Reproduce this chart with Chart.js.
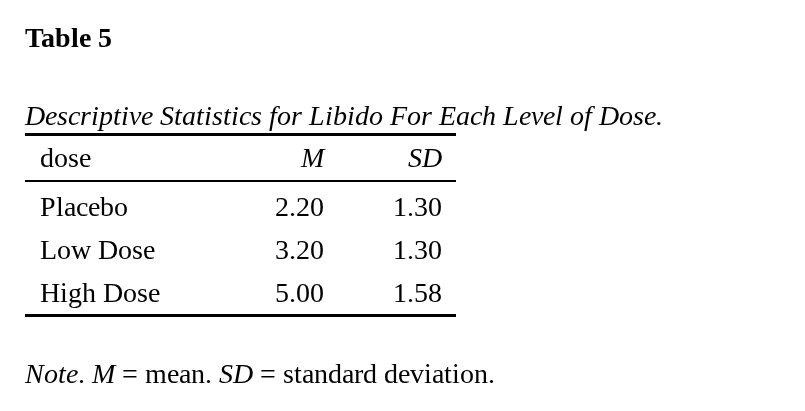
<!DOCTYPE html>
<html><head><meta charset="utf-8">
<script src="https://cdn.jsdelivr.net/npm/chart.js@4/dist/chart.umd.min.js"></script>
<style>
@font-face { font-family: 'TblSerif'; font-style: normal; font-weight: 400; src: local('Liberation Serif'), local('LiberationSerif'), local('Liberation Serif Regular'), local('LiberationSerif-Regular'); }
@font-face { font-family: 'TblSerif'; font-style: italic; font-weight: 400; src: local('Liberation Serif Italic'), local('LiberationSerif-Italic'); }
@font-face { font-family: 'TblSerif'; font-style: normal; font-weight: 700; src: local('Liberation Serif Bold'), local('LiberationSerif-Bold'); }
html,body{margin:0;padding:0;background:#fff;}
</style>
</head><body>
<canvas id="c" width="805" height="411"></canvas>
<script>
// ---- data ----
const tableNumber = "Table 5";
const tableTitle = "Descriptive Statistics for Libido For Each Level of Dose.";
const columnHeaders = ["dose", "M", "SD"];
const doses = ["Placebo", "Low Dose", "High Dose"];
const means = [2.20, 3.20, 5.00];
const sds = [1.30, 1.30, 1.58];
const noteTexts = ["Note", ". ", "M", " = mean. ", "SD", " = standard deviation."];
const noteItalic = [true, false, true, false, true, false];

// ---- style / layout ----
const COL_DOSE = 0.035, COL_M = 0.694, COL_SD = 0.967;
const FAM = 'TblSerif, "Liberation Serif", "Times New Roman", serif';
const REG = '28px ' + FAM;
const ITA = 'italic 28px ' + FAM;
const BLD = 'bold 28px ' + FAM;

function put(ctx, font, align, txt, x, y) {
  ctx.font = font;
  ctx.fillStyle = '#000';
  ctx.textAlign = align;
  ctx.textBaseline = 'alphabetic';
  ctx.fillText(txt, x, y);
  return ctx.measureText(txt).width;
}

const p = {id: 'p', afterDraw(chart) {
  const ctx = chart.ctx;
  const a = chart.chartArea;
  const xs = chart.scales.x;
  const ys = chart.scales.y;
  ctx.save();
  put(ctx, BLD, 'left', tableNumber, a.left, 47);
  put(ctx, ITA, 'left', tableTitle, a.left, 125);
  ctx.fillStyle = '#000';
  ctx.fillRect(a.left, 133, a.right - a.left, 3);
  ctx.fillRect(a.left, a.top - 1, a.right - a.left, 2);
  ctx.fillRect(a.left, a.bottom + 3, a.right - a.left, 3);
  const hb = a.top - 14;
  put(ctx, REG, 'left', columnHeaders[0], xs.getPixelForValue(COL_DOSE), hb);
  put(ctx, ITA, 'right', columnHeaders[1], xs.getPixelForValue(COL_M), hb);
  put(ctx, ITA, 'right', columnHeaders[2], xs.getPixelForValue(COL_SD), hb);
  doses.forEach((d, i) => {
    const yy = ys.getPixelForValue(i) + 13;
    put(ctx, REG, 'left', d, xs.getPixelForValue(COL_DOSE), yy);
    put(ctx, REG, 'right', means[i].toFixed(2), xs.getPixelForValue(COL_M), yy);
    put(ctx, REG, 'right', sds[i].toFixed(2), xs.getPixelForValue(COL_SD), yy);
  });
  let nx = a.left;
  noteTexts.forEach((t, i) => { nx += put(ctx, noteItalic[i] ? ITA : REG, 'left', t, nx, 383); });
  ctx.restore();
}};

function build() {
  new Chart(document.getElementById('c'), {
    type: 'scatter',
    data: { datasets: [
      { data: doses.map((d, i) => ({ x: COL_M, y: i })), pointRadius: 0 },
      { data: doses.map((d, i) => ({ x: COL_SD, y: i })), pointRadius: 0 }
    ] },
    options: {
      responsive: false, animation: false,
      layout: { padding: { left: 25, right: 349, top: 181, bottom: 100 } },
      plugins: { legend: { display: false }, tooltip: { enabled: false } },
      scales: {
        x: { min: 0, max: 1, display: false },
        y: { type: 'category', labels: doses, offset: true, display: false }
      }
    },
    plugins: [p]
  });
}

Promise.all([REG, ITA, BLD].map(f => document.fonts.load(f, 'Table'))).then(build, build);
</script></body></html>
